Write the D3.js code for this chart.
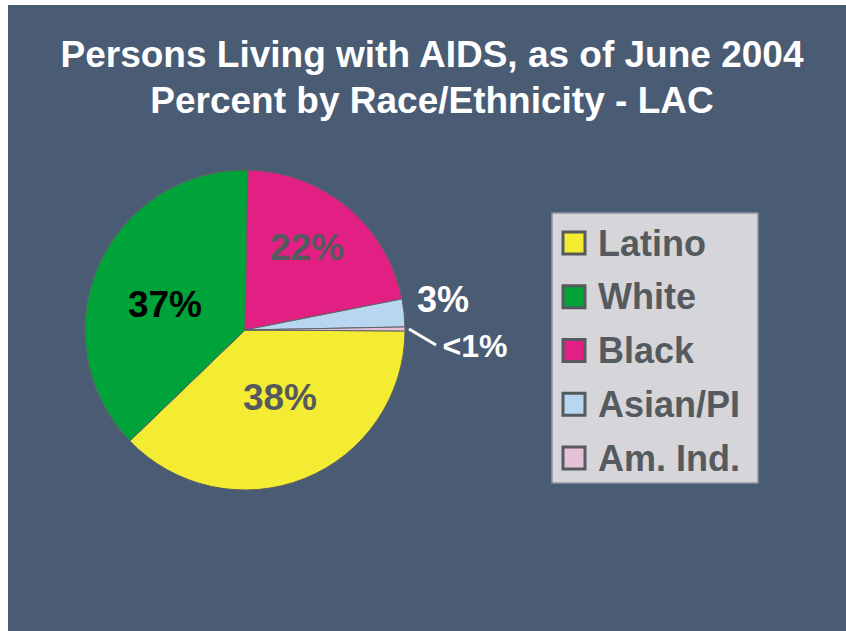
<!DOCTYPE html>
<html>
<head>
<meta charset="utf-8">
<script src="https://cdn.jsdelivr.net/npm/d3@7"></script>
<style>
  body { margin: 0; background: #ffffff; }
  svg { display: block; font-family: "Liberation Sans", Arial, sans-serif; font-weight: bold; }
</style>
</head>
<body>
<svg width="846" height="631"></svg>
<script>
const svg = d3.select("svg");

const categories = ["Latino", "White", "Black", "Asian/PI", "Am. Ind."];
const values = [37.7, 37.5, 21.6, 2.8, 0.4];
const labels = ["38%", "37%", "22%", "3%", "<1%"];
const colors = ["#f4ec33", "#00a33a", "#e21f83", "#b8d6f0", "#e6c2d8"];
const labelColors = ["#555a5e", "#000000", "#555a5e", "#ffffff", "#ffffff"];

// background panel
svg.append("rect").attr("x", 8).attr("y", 5).attr("width", 838).attr("height", 626).attr("fill", "#4a5b74");

// title
const titleLines = ["Persons Living with AIDS, as of June 2004", "Percent by Race/Ethnicity - LAC"];
titleLines.forEach((t, i) => {
    svg.append("text")
        .attr("x", 432)
        .attr("y", 67 + i * 46)
        .attr("text-anchor", "middle")
        .attr("fill", "#ffffff")
        .style("font-size", "37px")
        .text(t);
});

const cx = 245, cy = 330, r = 160;
const g = svg.append("g").attr("transform", `translate(${cx},${cy})`);

const pie = d3.pie().sort(null)
    .startAngle(Math.PI / 2 + 0.006)
    .endAngle(Math.PI / 2 + 0.006 + 2 * Math.PI);
const arcs = pie(values);
const arc = d3.arc().innerRadius(0).outerRadius(r);

g.selectAll("path")
    .data(arcs)
    .join("path")
    .attr("d", arc)
    .attr("fill", (d, i) => colors[i])
    .attr("stroke", "#5e6366")
    .attr("stroke-width", 1);

// inside labels
const labelPos = [[280, 397], [165, 304], [307, 247]];
labelPos.forEach((p, i) => {
    svg.append("text")
        .attr("x", p[0]).attr("y", p[1])
        .attr("dy", "0.35em")
        .attr("text-anchor", "middle")
        .attr("fill", labelColors[i])
        .style("font-size", "37px")
        .text(labels[i]);
});

// outside labels
svg.append("text")
    .attr("x", 443).attr("y", 299)
    .attr("dy", "0.35em")
    .attr("text-anchor", "middle")
    .attr("fill", labelColors[3])
    .style("font-size", "36px")
    .text(labels[3]);

const amAngle = (arcs[4].startAngle + arcs[4].endAngle) / 2;
const lx = cx + Math.sin(amAngle) * (r + 4), ly = cy - Math.cos(amAngle) * (r + 4);
svg.append("line")
    .attr("x1", lx).attr("y1", ly)
    .attr("x2", 436).attr("y2", 345)
    .attr("stroke", "#ffffff")
    .attr("stroke-width", 3);
svg.append("text")
    .attr("x", 475).attr("y", 346)
    .attr("dy", "0.35em")
    .attr("text-anchor", "middle")
    .attr("fill", labelColors[4])
    .style("font-size", "32px")
    .text(labels[4]);

// legend
const legend = svg.append("g");
legend.append("rect")
    .attr("x", 552).attr("y", 213).attr("width", 206).attr("height", 270)
    .attr("fill", "#d5d5da").attr("stroke", "#8a94a3").attr("stroke-width", 1.5);

const ly0 = d3.scalePoint().domain(categories).range([243, 458]);
categories.forEach((c, i) => {
    legend.append("rect")
        .attr("x", 563).attr("y", ly0(c) - 11)
        .attr("width", 22).attr("height", 22)
        .attr("fill", colors[i])
        .attr("stroke", "#555a5e").attr("stroke-width", 3);
    legend.append("text")
        .attr("x", 598).attr("y", ly0(c))
        .attr("dy", "0.35em")
        .attr("fill", "#555a5e")
        .style("font-size", "36px")
        .text(c);
});
</script>
</body>
</html>
